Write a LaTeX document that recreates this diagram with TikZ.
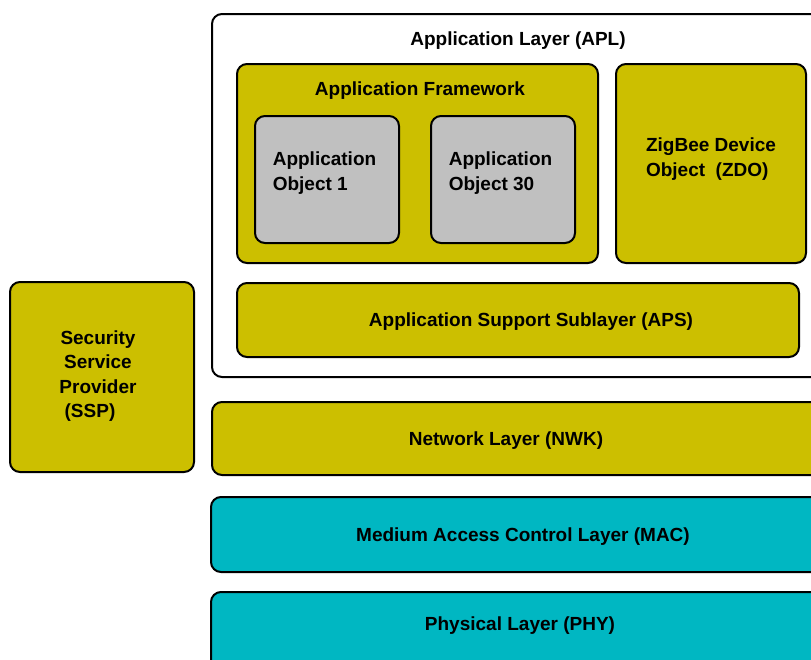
\documentclass[tikz,border=0pt]{standalone}
\usepackage{fontspec}
\setmainfont{Liberation Sans}
\usetikzlibrary{fit}
\definecolor{layeryellow}{RGB}{204,191,0}
\definecolor{layerteal}{RGB}{0,183,194}
\definecolor{objgray}{RGB}{192,192,192}
\tikzset{
  box/.style={draw=black, line width=2pt, rounded corners=10pt, inner sep=0pt},
  ybox/.style={box, fill=layeryellow},
  tbox/.style={box, fill=layerteal},
  gbox/.style={box, fill=objgray},
  wbox/.style={box, fill=white},
  txt/.style={inner sep=0pt, font=\bfseries\fontsize{19}{24.5}\selectfont},
}
\begin{document}
\begin{tikzpicture}[x=1pt, y=-1pt]
\useasboundingbox (0,0) rectangle (811,659);
\clip (0,0) rectangle (811,659);
\fill[white] (0,0) rectangle (811,659);

% application layer and its contents
\node[wbox, fit={(212,14) (822,377)}] (apl) {};
\node[txt] (apltxt) at (518,41) {Application Layer (APL)};
\node[ybox, fit={(237,64) (598,263)}] (fw) {};
\node[txt] (fwtxt) at (420,91) {Application Framework};
\node[gbox, fit={(255,116) (399,243)}] (ao1) {};
\node[txt, align=left] (ao1txt) at (324.5,173) {Application\\Object 1};
\node[gbox, fit={(431,116) (575,243)}] (ao30) {};
\node[txt, align=left] (ao30txt) at (500.5,173) {Application\\Object 30};
\node[ybox, fit={(616,64) (806,263)}] (zdo) {};
\node[txt, align=left] (zdotxt) at (711,159) {ZigBee Device\\Object\ \ (ZDO)};
\node[ybox, fit={(237,283) (799,357)}] (aps) {};
\node[txt] (apstxt) at (531,322) {Application Support Sublayer (APS)};

% security service provider
\node[ybox, fit={(10,282) (194,472)}] (ssp) {};
\node[txt, align=center] (ssptxt) at (98,376) {Security\\Service\\Provider\\(SSP)\hspace*{16pt}};

% lower layers
\node[ybox, fit={(212,402) (822,475)}] (nwk) {};
\node[txt] (nwktxt) at (506,441) {Network Layer (NWK)};
\node[tbox, fit={(211,497) (822,572)}] (mac) {};
\node[txt] (mactxt) at (523,537) {Medium Access Control Layer (MAC)};
\node[tbox, fit={(211,592) (822,690)}] (phy) {};
\node[txt] (phytxt) at (520,626) {Physical Layer (PHY)};
\end{tikzpicture}
\end{document}
